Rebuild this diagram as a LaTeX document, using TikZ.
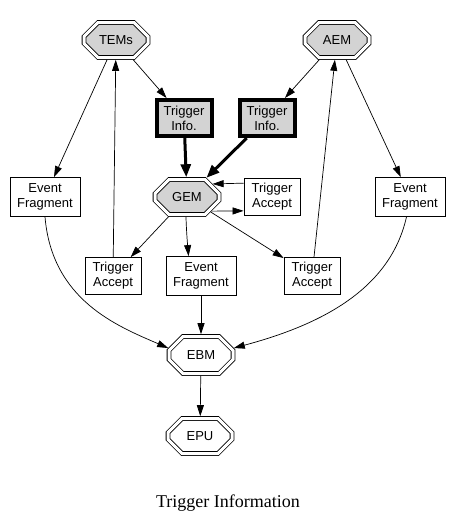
\documentclass[tikz,border=0pt]{standalone}
\usepackage{fontspec}
\setmainfont{Liberation Serif}
\setsansfont{Liberation Sans}
\usetikzlibrary{arrows.meta,shapes.misc,calc}
\definecolor{lg}{HTML}{D3D3D3}
\begin{document}
\begin{tikzpicture}[x=1pt,y=1pt,
  every node/.style={font=\sffamily\fontsize{13}{15}\selectfont, align=center, inner sep=0pt},
  box/.style={draw, line width=0.8pt, rectangle, minimum width=70pt, minimum height=39pt},
  tabox/.style={box, minimum width=56pt, minimum height=37pt},
  infobox/.style={draw, line width=4pt, fill=lg, rectangle, minimum width=55pt, minimum height=36pt},
  oct/.style={chamfered rectangle, chamfered rectangle xsep=18pt, chamfered rectangle ysep=9.5pt,
    draw, line width=0.8pt, double=white, double distance=3pt,
    minimum width=64pt, minimum height=35pt, outer sep=2.3pt},
  arr/.style={-{Triangle[length=11pt,width=7pt]}, line width=0.7pt},
  thk/.style={-{Triangle[length=13pt,width=10pt]}, line width=3pt}
]
\useasboundingbox (0,0) rectangle (452,-525);

\node[oct, fill=lg] (TEMs) at (116,-40) {TEMs};
\node[oct, fill=lg] (AEM) at (337,-40) {AEM};
\node[infobox] (TIl) at (184,-118) {Trigger\\Info.};
\node[infobox] (TIr) at (267,-118) {Trigger\\Info.};
\node[box] (EFl) at (45,-197) {Event\\Fragment};
\node[oct, fill=lg] (GEM) at (187,-197) {GEM};
\node[tabox] (TAr) at (272,-197) {Trigger\\Accept};
\node[box] (EFr) at (410,-197) {Event\\Fragment};
\node[tabox] (TAl) at (113,-276) {Trigger\\Accept};
\node[box] (EFm) at (201,-276) {Event\\Fragment};
\node[tabox] (TAb) at (312,-276) {Trigger\\Accept};
\node[oct, minimum height=37pt] (EBM) at (201,-355) {EBM};
\node[oct] (EPU) at (200,-436) {EPU};
\node (cap) at (228,-503) {\rmfamily\fontsize{18}{20}\selectfont Trigger Information};

\draw[arr] (TEMs) -- (EFl);
\draw[arr] (TAl) -- (TEMs);
\draw[arr] (TEMs) -- (TIl);
\draw[thk] (TIl) -- (GEM);
\draw[thk] (TIr) -- (GEM);
\draw[arr] (AEM) -- (TIr);
\draw[arr] (TAb) -- (AEM);
\draw[arr] (AEM) -- (EFr);
\draw[arr] (TAr.154) -- (GEM.27);
\draw[arr] (GEM.-30) -- (TAr.206);
\draw[arr] (GEM) -- (TAl);
\draw[arr] (GEM.-93) to[out=-88,in=95] (EFm.122);
\draw[arr] (GEM) -- (TAb);
\draw[arr] (EFm) -- (EBM);
\draw[arr] (EBM) -- (EPU);
\draw[arr] (EFl.south) .. controls (52,-300) and (117,-326) .. (EBM.168);
\draw[arr] (EFr.-100) .. controls (390,-290) and (320,-325) .. (EBM.12);
\end{tikzpicture}
\end{document}
